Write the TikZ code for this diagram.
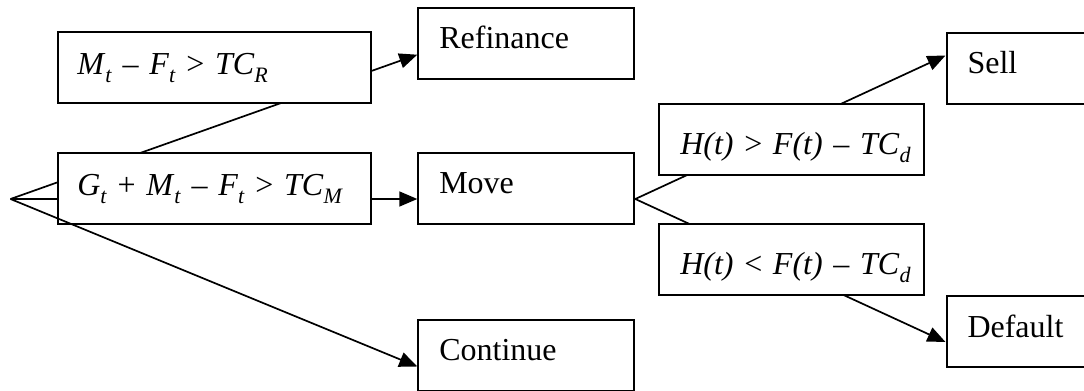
\documentclass[tikz,border=0pt]{standalone}
\usepackage{fontspec}
\setmainfont{Liberation Serif}
\usetikzlibrary{arrows.meta,calc,backgrounds}
\newcommand\lowi[1]{\raisebox{-0.25em}{\fontsize{11}{11}\selectfont\textit{#1}}}
\tikzset{
  box/.style={draw, fill=white, line width=1pt, anchor=north west, align=left,
    inner xsep=10.5pt, inner ysep=0pt, text width=87pt,
    text height=20.5pt, text depth=15pt, font=\fontsize{16}{19}\selectfont},
  condbox/.style={box, inner xsep=9.5pt, text width=137.5pt,
    text height=21.5pt, text depth=14pt},
  testbox/.style={box, text width=111.5pt, text height=25pt, text depth=10.5pt},
  link/.style={line width=0.85pt},
  arr/.style={link, -{Triangle[length=9pt,width=7.5pt]}}
}
\begin{document}
\begin{tikzpicture}[x=0.5pt,y=-0.5pt]
  \useasboundingbox (0,0) rectangle (1084,391);
  \coordinate (root) at (10.5,199);
  \node[condbox] (condR) at (57.3,31)
    {\mbox{\textit{M}\lowi{t} – \textit{F}\lowi{t} > \textit{TC}\lowi{R}}};
  \node[condbox] (condM) at (57.3,151.5)
    {\mbox{\textit{G}\lowi{t} + \textit{M}\lowi{t} – \textit{F}\lowi{t} > \textit{TC}\lowi{M}}};
  \node[testbox] (sellif) at (658.3,103.3)
    {\mbox{\textit{H(t)} > \textit{F(t)} – \textit{TC}\lowi{d}}};
  \node[testbox] (dfltif) at (658.3,223)
    {\mbox{\textit{H(t)} < \textit{F(t)} – \textit{TC}\lowi{d}}};
  \foreach \name/\x/\y/\txt in {refi/417.3/6.7/Refinance, move/417.3/151.7/Move,
      cont/417.3/318.5/Continue, sell/945.5/31.5/Sell, dflt/945.5/295/Default}
    \node[box] (\name) at (\x,\y) {\txt};
  % lines hidden behind the boxes
  \begin{scope}[on background layer]
    \draw[arr] (root) -- ($(refi.north west)+(0,48)$);
    \draw[arr] (root) -- (move.west |- root);
    \draw[arr] (move.east |- root) -- ($(sell.north west)+(0,24)$);
    \draw[arr] (move.east |- root) -- ($(dflt.north west)+(0,47)$);
  \end{scope}
  \draw[arr] (root) -- ($(cont.north west)+(0,48)$);
\end{tikzpicture}
\end{document}
